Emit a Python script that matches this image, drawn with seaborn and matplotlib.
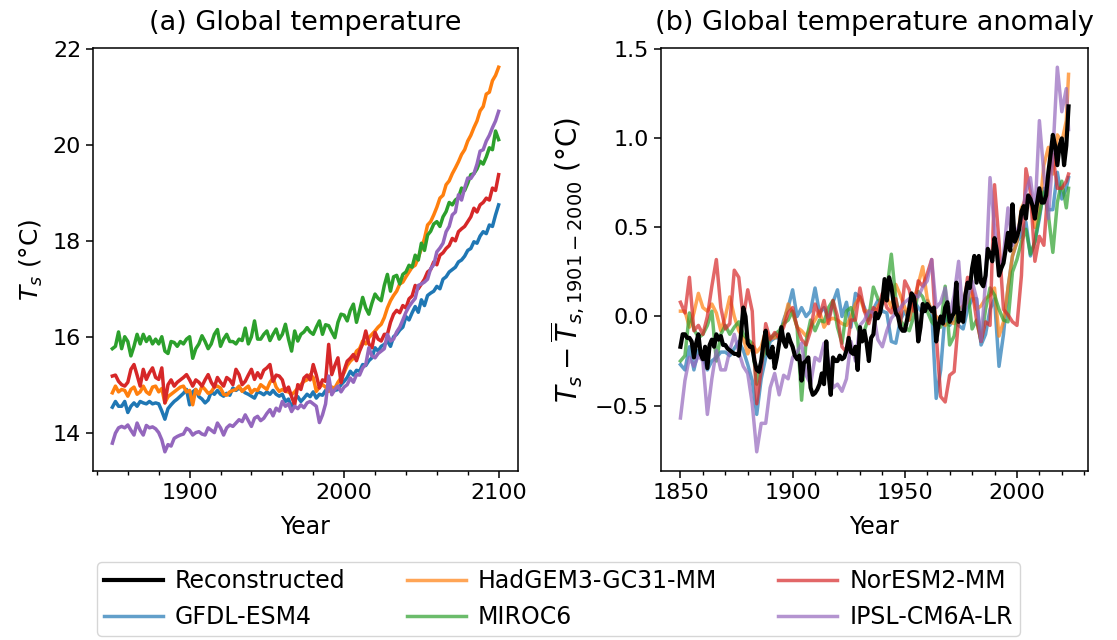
import matplotlib
matplotlib.use("Agg")
import matplotlib.pyplot as plt
import seaborn as sns
import pandas as pd
from matplotlib.ticker import MultipleLocator

# ---------------- data: panel (a) absolute global temperature (every 2 years) ----------------
years_a = list(range(1850, 2101, 2))

gfdl_a = [
    14.53, 14.65, 14.55, 14.55, 14.65, 14.42, 14.55, 14.62, 14.55, 14.65,
    14.62, 14.60, 14.65, 14.60, 14.62, 14.60, 14.45, 14.28, 14.50, 14.58,
    14.65, 14.70, 14.76, 14.82, 14.90, 14.58, 14.85, 14.90, 14.75, 14.70,
    14.62, 14.68, 14.85, 14.80, 14.88, 14.80, 14.76, 14.82, 14.78, 14.93,
    14.88, 14.93, 14.88, 14.83, 14.80, 14.76, 14.72, 14.85, 14.83, 14.79,
    14.85, 14.80, 14.88, 14.80, 14.76, 14.80, 14.65, 14.70, 14.51, 14.70,
    14.75, 14.65, 14.72, 14.80, 14.75, 14.85, 14.72, 14.80, 14.78, 14.88,
    14.93, 14.85, 14.88, 14.90, 15.00, 15.07, 15.15, 15.28, 15.20, 15.30,
    15.28, 15.42, 15.40, 15.50, 15.56, 15.77, 15.70, 15.80, 15.84, 15.91,
    15.80, 16.00, 16.05, 16.14, 16.20, 16.42, 16.35, 16.50, 16.63, 16.51,
    16.77, 16.65, 16.86, 16.91, 16.95, 17.05, 17.00, 17.20, 17.25, 17.35,
    17.40, 17.45, 17.56, 17.60, 17.68, 17.80, 17.84, 17.98, 17.95, 18.10,
    18.19, 18.15, 18.33, 18.30, 18.54, 18.75,
]
hadgem_a = [
    14.83, 14.97, 14.85, 14.90, 14.88, 14.76, 14.90, 14.95, 14.80, 14.85,
    14.97, 14.85, 14.80, 14.95, 14.97, 14.85, 14.92, 14.62, 14.75, 14.80,
    14.85, 14.90, 14.95, 14.97, 14.85, 14.88, 14.58, 14.90, 14.80, 14.97,
    14.90, 14.82, 14.85, 14.95, 14.97, 14.93, 14.80, 14.78, 14.85, 14.88,
    14.90, 14.97, 14.86, 14.92, 14.97, 14.83, 14.90, 14.88, 15.00, 14.95,
    14.90, 15.05, 15.14, 14.95, 14.86, 14.90, 14.86, 14.85, 14.79, 14.85,
    14.93, 15.00, 15.07, 15.10, 15.21, 15.15, 14.86, 14.95, 15.00, 14.95,
    14.86, 14.95, 14.93, 15.05, 15.14, 15.25, 15.40, 15.49, 15.55, 15.70,
    15.75, 15.91, 15.85, 15.98, 16.05, 16.12, 16.20, 16.26, 16.40, 16.60,
    16.75, 16.86, 16.95, 17.10, 17.14, 17.25, 17.35, 17.45, 17.49, 17.65,
    17.84, 18.05, 18.33, 18.40, 18.54, 18.70, 18.89, 18.95, 19.17, 19.25,
    19.40, 19.52, 19.65, 19.80, 19.90, 20.08, 20.20, 20.36, 20.50, 20.71,
    20.80, 21.06, 21.10, 21.34, 21.45, 21.62,
]
miroc_a = [
    15.75, 15.80, 16.10, 15.75, 16.00, 15.90, 15.60, 15.80, 16.05, 15.85,
    16.05, 15.90, 16.00, 15.85, 15.95, 15.85, 16.00, 15.70, 15.65, 15.90,
    15.88, 15.80, 15.90, 15.85, 15.95, 16.00, 15.55, 15.75, 15.85, 16.02,
    15.90, 15.75, 15.85, 16.05, 16.15, 15.80, 15.95, 16.05, 15.90, 15.90,
    15.85, 15.95, 15.92, 16.18, 15.85, 16.00, 16.33, 15.95, 15.95, 16.05,
    16.12, 15.92, 16.05, 16.16, 15.95, 16.05, 16.26, 15.95, 15.70, 16.12,
    15.91, 16.05, 16.10, 16.19, 16.10, 16.05, 16.20, 16.33, 16.05, 16.25,
    16.23, 16.10, 15.98, 16.30, 16.47, 16.45, 16.33, 16.55, 16.68, 16.30,
    16.55, 16.82, 16.60, 16.47, 16.70, 16.89, 16.80, 16.75, 17.07, 17.30,
    16.95, 17.25, 17.28, 17.10, 17.30, 17.35, 17.49, 17.45, 17.70, 17.60,
    17.95, 17.80, 18.12, 18.20, 18.35, 18.40, 18.30, 18.50, 18.61, 18.80,
    18.75, 18.85, 18.90, 19.10, 19.05, 19.20, 19.38, 19.40, 19.50, 19.66,
    19.60, 19.75, 19.94, 19.90, 20.29, 20.11,
]
noresm_a = [
    15.18, 15.20, 15.07, 15.00, 14.97, 15.05, 15.32, 15.42, 15.20, 14.97,
    15.32, 15.11, 15.25, 15.35, 15.15, 15.11, 15.35, 14.62, 15.00, 15.10,
    14.97, 15.05, 15.10, 15.15, 15.21, 15.10, 14.97, 15.10, 15.05, 14.97,
    15.10, 15.21, 15.05, 14.95, 15.15, 15.05, 14.97, 15.15, 15.10, 15.00,
    15.32, 15.21, 15.00, 15.07, 15.20, 15.32, 15.11, 15.25, 15.14, 15.30,
    15.35, 15.42, 15.07, 15.20, 15.18, 15.10, 14.86, 14.95, 14.75, 14.58,
    15.00, 14.90, 15.14, 15.20, 15.10, 15.42, 15.20, 14.93, 15.10, 15.07,
    15.84, 15.21, 15.40, 15.56, 15.04, 15.30, 15.49, 15.55, 15.63, 15.50,
    15.70, 15.85, 16.12, 15.85, 15.77, 16.09, 15.95, 15.91, 16.05, 16.05,
    16.30, 16.47, 16.55, 16.50, 16.65, 16.60, 16.79, 16.85, 17.07, 17.00,
    17.10, 17.20, 17.35, 17.40, 17.56, 17.50, 17.70, 17.75, 17.84, 17.90,
    18.05, 18.00, 18.19, 18.25, 18.30, 18.40, 18.50, 18.68, 18.60, 18.75,
    18.80, 18.89, 18.85, 19.10, 19.05, 19.38,
]
ipsl_a = [
    13.78, 13.99, 14.10, 14.13, 14.10, 14.16, 14.05, 13.95, 14.20, 14.05,
    13.95, 14.15, 14.10, 14.12, 14.08, 14.00, 13.85, 13.60, 13.75, 13.72,
    13.88, 13.92, 13.95, 13.97, 14.09, 14.05, 13.95, 14.00, 14.02, 13.97,
    13.95, 14.10, 14.05, 14.00, 14.20, 14.10, 13.95, 14.10, 14.16, 14.13,
    14.20, 14.27, 14.23, 14.37, 14.25, 14.13, 14.30, 14.34, 14.25, 14.30,
    14.40, 14.48, 14.35, 14.51, 14.45, 14.65, 14.55, 14.60, 14.44, 14.55,
    14.50, 14.58, 14.52, 14.62, 14.65, 14.60, 14.55, 14.21, 14.37, 14.60,
    15.18, 14.79, 14.90, 14.97, 14.85, 14.95, 15.00, 15.14, 15.05, 15.21,
    15.20, 15.35, 15.42, 15.77, 15.60, 15.56, 15.65, 15.70, 15.75, 16.05,
    15.91, 15.95, 16.10, 16.20, 16.35, 16.51, 16.63, 16.72, 16.80, 17.07,
    17.10, 17.14, 17.20, 17.42, 17.50, 17.77, 17.85, 17.95, 18.19, 18.30,
    18.54, 18.60, 18.96, 18.85, 19.10, 19.31, 19.30, 19.40, 19.60, 19.87,
    19.90, 20.08, 20.20, 20.36, 20.50, 20.70,
]

# ---------------- data: panel (b) anomalies ----------------
years_rec = list(range(1850, 2024))
reconstructed = [
    -0.17, -0.10, -0.10, -0.12, -0.12, -0.14, -0.23, -0.15, -0.10, -0.21,
    -0.24, -0.17, -0.29, -0.16, -0.13, -0.17, -0.10, -0.13, -0.11, -0.16,
    -0.16, -0.18, -0.19, -0.20, -0.21, -0.21, -0.22, -0.10, 0.05, 0.00,
    -0.15, -0.17, -0.17, -0.25, -0.30, -0.31, -0.25, -0.15, -0.08, -0.21,
    -0.23, -0.17, -0.29, -0.23, -0.15, -0.06, -0.14, -0.17, -0.10, -0.14,
    -0.17, -0.22, -0.24, -0.22, -0.36, -0.26, -0.25, -0.23, -0.40, -0.44,
    -0.43, -0.41, -0.38, -0.32, -0.38, -0.14, -0.32, -0.44, -0.23, -0.25,
    -0.25, -0.22, -0.24, -0.23, -0.19, -0.12, -0.20, -0.21, -0.17, -0.30,
    -0.06, -0.14, -0.08, -0.15, -0.25, -0.12, -0.10, 0.02, -0.01, 0.02,
    0.09, 0.21, 0.09, 0.22, 0.17, 0.08, 0.02, 0.00, -0.06, -0.08,
    -0.08, -0.02, 0.05, 0.13, 0.11, 0.03, -0.14, -0.06, 0.07, 0.03,
    0.07, 0.05, 0.03, 0.05, -0.14, -0.05, 0.00, -0.04, 0.05, 0.08,
    -0.03, 0.00, 0.02, 0.19, -0.03, 0.02, -0.03, 0.12, 0.19, 0.16,
    0.27, 0.34, 0.19, 0.34, 0.19, 0.17, 0.23, 0.38, 0.35, 0.31,
    0.44, 0.37, 0.23, 0.27, 0.30, 0.38, 0.47, 0.37, 0.63, 0.42,
    0.45, 0.49, 0.59, 0.62, 0.55, 0.68, 0.66, 0.62, 0.55, 0.64,
    0.72, 0.64, 0.64, 0.68, 0.81, 0.91, 1.02, 0.96, 0.85, 0.96,
    1.00, 0.85, 0.96, 1.18,
]

years_b = list(range(1850, 2023, 2)) + [2023]
gfdl_b = [
    -0.27, -0.30, -0.17, -0.30, -0.19, -0.23, -0.30, -0.25, -0.23, -0.20,
    -0.20, -0.22, -0.18, -0.14, -0.19, -0.27, -0.36, -0.55, -0.35, -0.23,
    -0.14, -0.12, -0.12, -0.02, 0.05, 0.15, 0.00, 0.05, 0.00, 0.03,
    0.16, 0.02, 0.05, -0.01, 0.08, 0.15, 0.00, 0.08, -0.06, 0.13,
    0.11, 0.05, -0.02, 0.04, 0.09, 0.03, 0.02, -0.14, -0.15, -0.02,
    0.03, -0.02, 0.09, 0.05, 0.02, 0.09, 0.03, -0.46, -0.30, 0.02,
    -0.05, -0.01, -0.05, -0.07, 0.04, 0.10, 0.10, -0.16, -0.10, 0.04,
    0.10, -0.28, -0.10, 0.16, 0.34, 0.42, 0.46, 0.53, 0.34, 0.42,
    0.55, 0.72, 0.60, 0.60, 0.81, 0.66, 0.72, 0.78,
]
hadgem_b = [
    0.03, 0.03, -0.06, 0.02, 0.13, 0.05, 0.03, 0.07, 0.02, -0.08,
    0.00, 0.11, 0.00, -0.08, -0.12, -0.21, -0.15, -0.20, -0.17, -0.08,
    -0.12, -0.12, -0.10, -0.04, 0.07, 0.02, -0.06, -0.08, -0.11, -0.06,
    -0.02, 0.03, -0.06, -0.02, -0.01, -0.02, -0.04, -0.05, 0.00, 0.07,
    0.11, 0.03, 0.03, 0.00, 0.06, 0.09, 0.11, 0.05, 0.18, 0.12,
    0.05, -0.02, 0.09, 0.18, 0.28, 0.10, 0.03, 0.00, -0.02, -0.05,
    -0.03, -0.04, 0.04, 0.06, 0.08, 0.14, 0.04, 0.06, 0.10, 0.12,
    0.16, -0.11, -0.03, 0.16, 0.34, 0.42, 0.61, 0.66, 0.68, 0.50,
    0.59, 0.85, 0.95, 0.80, 1.02, 0.98, 1.10, 1.36,
]
miroc_b = [
    -0.25, -0.22, 0.02, -0.07, -0.12, -0.10, -0.05, 0.03, -0.25, -0.10,
    -0.05, -0.10, -0.06, -0.03, -0.10, -0.13, -0.15, -0.38, -0.25, -0.19,
    -0.12, -0.10, -0.08, -0.04, -0.02, 0.03, -0.06, -0.47, -0.14, -0.02,
    -0.08, -0.02, -0.03, 0.05, 0.09, -0.06, -0.15, 0.03, 0.05, -0.03,
    -0.10, -0.08, 0.00, 0.165, 0.10, 0.07, 0.15, 0.35, 0.10, -0.02,
    -0.06, -0.08, 0.00, 0.14, 0.11, 0.03, -0.03, -0.06, -0.06, 0.17,
    -0.16, -0.11, 0.05, 0.02, 0.16, -0.07, -0.02, -0.14, 0.04, 0.16,
    0.12, 0.04, -0.02, -0.03, 0.25, 0.32, 0.42, 0.49, 0.35, 0.42,
    0.57, 0.70, 0.57, 0.36, 0.64, 0.76, 0.61, 0.72,
]
noresm_b = [
    0.08, 0.02, 0.22, -0.08, -0.05, -0.10, 0.00, 0.17, 0.32, 0.05,
    -0.07, -0.04, 0.26, 0.22, -0.01, 0.15, 0.03, -0.49, -0.30, -0.04,
    -0.13, -0.09, -0.12, -0.06, 0.02, 0.05, -0.06, -0.13, -0.16, -0.08,
    0.07, 0.00, 0.09, -0.04, 0.09, 0.00, -0.17, -0.20, -0.02, -0.02,
    0.16, 0.03, -0.04, 0.05, 0.03, 0.13, 0.05, 0.02, 0.10, -0.04,
    0.20, 0.15, 0.03, 0.20, 0.17, 0.24, 0.32, -0.10, -0.45, -0.48,
    -0.33, -0.31, -0.01, 0.04, 0.22, 0.15, -0.02, -0.14, -0.03, -0.05,
    0.74, 0.42, 0.04, 0.01, -0.03, -0.05, 0.23, 0.83, 0.70, 0.31,
    0.45, 0.40, 0.75, 0.91, 0.72, 0.72, 0.76, 0.80,
]
ipsl_b = [
    -0.57, -0.36, -0.23, -0.28, -0.22, -0.25, -0.55, -0.35, -0.19, -0.30,
    -0.30, -0.19, -0.10, -0.20, -0.28, -0.32, -0.49, -0.76, -0.60, -0.60,
    -0.40, -0.32, -0.44, -0.33, -0.35, -0.23, -0.20, -0.15, -0.33, -0.38,
    -0.23, -0.25, -0.15, -0.25, -0.40, -0.38, -0.42, -0.35, -0.14, -0.25,
    -0.05, -0.02, 0.03, 0.02, -0.13, -0.17, -0.08, -0.01, 0.02, 0.05,
    0.08, 0.10, 0.12, 0.11, 0.165, 0.20, 0.32, 0.05, 0.08, 0.16,
    0.00, 0.12, 0.31, -0.02, 0.10, 0.20, 0.10, -0.14, 0.20, 0.78,
    0.50, 0.26, 0.34, 0.61, 0.40, 0.48, 0.55, 0.70, 0.78, 0.57,
    1.10, 0.80, 0.55, 0.91, 1.40, 1.15, 1.28, 1.05,
]

model_names = ["GFDL-ESM4", "HadGEM3-GC31-MM", "MIROC6", "NorESM2-MM", "IPSL-CM6A-LR"]
model_colors = ["#1f77b4", "#ff7f0e", "#2ca02c", "#d62728", "#9467bd"]
series_a = [gfdl_a, hadgem_a, miroc_a, noresm_a, ipsl_a]
series_b = [gfdl_b, hadgem_b, miroc_b, noresm_b, ipsl_b]

title_a = "(a) Global temperature"
title_b = "(b) Global temperature anomaly"
ylabel_a = r"$T_s$ (°C)"
ylabel_b = r"$T_s - \overline{T}_{s,1901-2000}$ (°C)"
xlabel = "Year"

# ---------------- figure ----------------
fig = plt.figure(figsize=(11.17, 6.40), dpi=100)
ax1 = fig.add_axes([0.0833, 0.264, 0.3804, 0.661])
ax2 = fig.add_axes([0.5918, 0.264, 0.3822, 0.661])

for name, col, vals in zip(model_names, model_colors, series_a):
    df = pd.DataFrame({"Year": years_a, "T": vals})
    sns.lineplot(data=df, x="Year", y="T", ax=ax1, color=col, linewidth=2.5,
                 label=name, legend=False)

for name, col, vals in zip(model_names, model_colors, series_b):
    df = pd.DataFrame({"Year": years_b, "T": vals})
    sns.lineplot(data=df, x="Year", y="T", ax=ax2, color=col, linewidth=2.5, alpha=0.7,
                 label=name, legend=False)
df_rec = pd.DataFrame({"Year": years_rec, "T": reconstructed})
sns.lineplot(data=df_rec, x="Year", y="T", ax=ax2, color="black", linewidth=3.0,
             label="Reconstructed", legend=False)

h, l = ax2.get_legend_handles_labels()
lut = dict(zip(l, h))
order = ["Reconstructed", "GFDL-ESM4", "HadGEM3-GC31-MM", "MIROC6", "NorESM2-MM", "IPSL-CM6A-LR"]

ax1.xaxis.set_major_locator(MultipleLocator(100))
ax1.xaxis.set_minor_locator(MultipleLocator(20))
ax1.yaxis.set_major_locator(MultipleLocator(2))
ax2.xaxis.set_major_locator(MultipleLocator(50))
ax2.xaxis.set_minor_locator(MultipleLocator(10))
ax2.yaxis.set_major_locator(MultipleLocator(0.5))

for ax, t, yl, ylfs in [(ax1, title_a, ylabel_a, 18), (ax2, title_b, ylabel_b, 20)]:
    ax.set_title(t, fontsize=19.5, pad=13)
    ax.set_xlabel(xlabel, fontsize=17, labelpad=9)
    ax.set_ylabel(yl, fontsize=ylfs, labelpad=6)
    ax.tick_params(axis="both", which="major", labelsize=16, length=5, width=1.1)
    ax.tick_params(axis="both", which="minor", length=2.8, width=1.0)
    for s in ax.spines.values():
        s.set_linewidth(1.1)

fig.legend([lut[k] for k in order], order, loc="upper left",
           bbox_to_anchor=(0.0868, 0.122), borderaxespad=0.0, ncol=3,
           fontsize=17, labelspacing=0.5, borderpad=0.3, handlelength=2.5,
           handletextpad=0.5, columnspacing=2.6, frameon=True)

fig.savefig("out.png", dpi=100)
